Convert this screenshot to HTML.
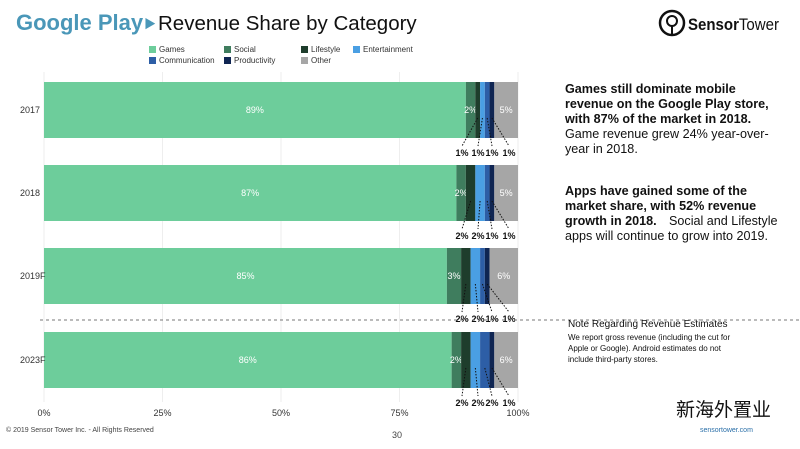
<!DOCTYPE html>
<html><head><meta charset="utf-8">
<style>
body{margin:0;width:800px;height:444px;background:#fff;overflow:hidden;font-family:"Liberation Sans","Noto Sans CJK SC",sans-serif;}
svg text{font-family:"Liberation Sans","Noto Sans CJK SC",sans-serif;}
</style></head><body>
<svg id="c" width="800" height="444">
<text x="16" y="30" font-size="22" font-weight="bold" fill="#4a97b8">Google Play</text>
<text x="144" y="28" font-size="12" fill="#4a97b8">▶</text>
<text x="158" y="30" font-size="20.5" fill="#111">Revenue Share by Category</text>
<g>
<circle cx="672" cy="23" r="12" fill="none" stroke="#111" stroke-width="2.5"/>
<circle cx="672" cy="21" r="5" fill="none" stroke="#111" stroke-width="2"/>
<line x1="672" y1="26" x2="672" y2="35" stroke="#111" stroke-width="2"/>
<text x="688" y="30" font-size="16.5" fill="#111" textLength="91" lengthAdjust="spacingAndGlyphs"><tspan font-weight="bold">Sensor</tspan>Tower</text>
</g>
<g id="legend"></g>
<g id="grid"></g>
<g id="bars"></g>
<line x1="40" y1="320" x2="800" y2="320" stroke="#777" stroke-dasharray="3,3"/>
<g id="axis"></g>
<g font-size="12.6" fill="#111">
<text x="565" y="93" font-weight="bold">Games still dominate mobile</text>
<text x="565" y="108" font-weight="bold">revenue on the Google Play store,</text>
<text x="565" y="123" font-weight="bold">with 87% of the market in 2018.</text>
<text x="565" y="138">Game revenue grew 24% year-over-</text>
<text x="565" y="153">year in 2018.</text>
<text x="565" y="195" font-weight="bold">Apps have gained some of the</text>
<text x="565" y="210" font-weight="bold">market share, with 52% revenue</text>
<text x="565" y="225" font-weight="bold">growth in 2018.</text><text x="669" y="225">Social and Lifestyle</text>
<text x="565" y="240">apps will continue to grow into 2019.</text>
<text x="568" y="327" font-size="10">Note Regarding Revenue Estimates</text>
<text x="568" y="340" font-size="8">We report gross revenue (including the cut for</text>
<text x="568" y="351" font-size="8">Apple or Google). Android estimates do not</text>
<text x="568" y="362" font-size="8">include third-party stores.</text>
</g>
<text x="6" y="432" font-size="7" fill="#444">© 2019 Sensor Tower Inc. - All Rights Reserved</text>
<text x="392" y="438" font-size="9" fill="#444">30</text>
<text x="700" y="432" font-size="7" fill="#2a6fa8">sensortower.com</text>
<text x="676" y="416" font-size="19" fill="#111">新海外置业</text>
</svg>
<script>
const years=["2017","2018","2019F","2023F"];
const categories=["Games","Social","Lifestyle","Entertainment","Communication","Productivity","Other"];
const games=[89,87,85,86];
const social=[2,2,3,2];
const lifestyle=[1,2,2,2];
const entertainment=[1,2,2,2];
const communication=[1,1,1,2];
const productivity=[1,1,1,1];
const other=[5,5,6,6];
const ticks=[0,25,50,75,100];
const colors=["#6dcd9b","#3f7d5e","#1e3d2c","#4a9fe3","#2d5ea6","#0f2552","#a6a6a6"];
const series=[games,social,lifestyle,entertainment,communication,productivity,other];
const NS="http://www.w3.org/2000/svg";
const x0=44,x1=518;
const xs=v=>x0+(x1-x0)*v/100;
const bandTop=[82,165,248,332],bh=56;
const ys=i=>bandTop[i];
function mk(t,a,p){const e=document.createElementNS(NS,t);for(const k in a)e.setAttribute(k,a[k]);p.appendChild(e);return e;}
const g=document.getElementById("grid"),b=document.getElementById("bars"),ax=document.getElementById("axis"),lg=document.getElementById("legend");
ticks.forEach(t=>{
 const l=mk("line",{x1:xs(t),x2:xs(t),y1:72,y2:402,stroke:"#eee"},g);
 
 
 const tx=mk("text",{x:xs(t),y:416,"font-size":9,fill:"#333","text-anchor":"middle"},ax);
 tx.textContent=t+"%";
 
 
});
const lpos=[[445,66,"Games"],[520,66,"Social"],[597,66,"Lifestyle"],[649,66,"Entertainment"],[445,77,"Communication"],[520,77,"Productivity"],[597,77,"Other"]];
categories.forEach((c,i)=>{
 const p=lpos[i];
 const e=mk("g",{},lg);
 
 
 mk("rect",{x:p[0]-296,y:p[1]-20,width:7,height:7,fill:colors[i]},e);
 const t=mk("text",{x:p[0]-286,y:p[1]-14,"font-size":8,fill:"#333"},e);
 t.textContent=c;
});
const offs=[-56,-40,-26,-9];
years.forEach((yr,i)=>{
 const y=ys(i);
 const yl=mk("text",{x:20,y:y+bh/2+3,"font-size":9,fill:"#333"},ax);
 yl.textContent=yr;
 
 
 let acc=0;const mids=[];
 series.forEach((s,k)=>{
  const v=s[i];
  const r=mk("rect",{x:xs(acc),y:y,width:Math.min(xs(acc+v),x1)-xs(acc),height:bh,fill:colors[k]},b);
  
  
  mids.push((xs(acc)+Math.min(xs(acc+v),x1))/2);
  if(k==0||k==1||k==6){
   const t=mk("text",{x:mids[k],y:y+bh/2+3,"font-size":9,fill:"#fff","text-anchor":"middle"},b);
   t.textContent=v+"%";
   
   
  }
  acc+=v;
 });
 [2,3,4,5].forEach((k,j)=>{
  const lx=x1+offs[j];
  mk("line",{x1:mids[k],y1:y+bh/2+8,x2:lx,y2:y+bh+8,stroke:"#111","stroke-dasharray":"1.5,1.5"},b);
  const t=mk("text",{x:lx,y:y+bh+18,"font-size":9,"font-weight":"bold",fill:"#111","text-anchor":"middle"},b);
  t.textContent=series[k][i]+"%";
  
  
 });
});
</script>
</body></html>
